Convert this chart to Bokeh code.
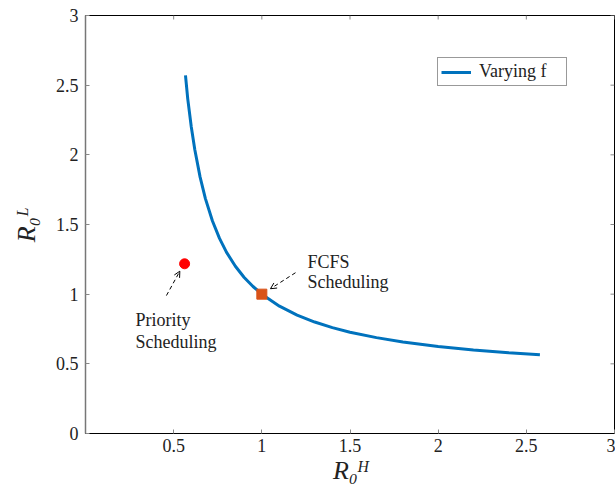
from bokeh.plotting import figure
from bokeh.models import (Range1d, FixedTicker, Label, Arrow, OpenHead,
                          Legend, LegendItem, CustomJSTickFormatter)
from bokeh.embed import file_html
from bokeh.resources import INLINE

# ---- data ----
curve_x = [0.567, 0.58, 0.60, 0.62, 0.65, 0.68, 0.72, 0.76, 0.80, 0.85, 0.90, 0.95,
           1.00, 1.10, 1.20, 1.30, 1.40, 1.50, 1.65, 1.80, 2.00, 2.20, 2.40, 2.577]
curve_y = [2.57, 2.40, 2.20, 2.036, 1.84, 1.686, 1.525, 1.40, 1.30, 1.20, 1.12, 1.055,
           1.00, 0.914, 0.85, 0.80, 0.76, 0.727, 0.688, 0.657, 0.625, 0.60, 0.58, 0.565]
priority_x = [0.562]
priority_y = [1.218]
fcfs_x = [1.0]
fcfs_y = [1.0]
x_ticks = [0.5, 1, 1.5, 2, 2.5, 3]
y_ticks = [0, 0.5, 1, 1.5, 2, 2.5, 3]
x_max = 3
y_max = 3

# annotation anchors (data units)
prio_arrow = [0.459, 0.99, 0.535, 1.165]
fcfs_arrow = [1.191, 1.154, 1.049, 1.039]
prio_text = [(0.284, 0.818, "Priority"), (0.284, 0.655, "Scheduling")]
fcfs_text = [(1.259, 1.23, "FCFS"), (1.259, 1.086, "Scheduling")]

SERIF = "Liberation Serif"
TXT = "#222222"
FS = "18px"

p = figure(width=615, height=493, output_backend="svg", toolbar_location=None,
           x_range=Range1d(0, x_max), y_range=Range1d(0, y_max),
           min_border_left=85, min_border_right=1, min_border_top=15, min_border_bottom=60)
p.grid.visible = False
p.outline_line_color = "black"
p.outline_line_width = 1

fmt = CustomJSTickFormatter(code="return String(Math.round(tick*10)/10);")

for ax, ticks in ((p.xaxis[0], x_ticks), (p.yaxis[0], y_ticks)):
    ax.ticker = FixedTicker(ticks=ticks)
    ax.formatter = fmt
    ax.minor_tick_line_color = None
    ax.major_tick_in = 4
    ax.major_tick_out = 0
    ax.major_tick_line_color = "#888888"
    ax.major_label_text_font = SERIF
    ax.major_label_text_font_size = FS
    ax.major_label_text_color = TXT
    ax.major_label_standoff = 7
    ax.axis_label_text_font = SERIF
    ax.axis_label_text_font_style = "italic"
    ax.axis_label_text_font_size = "26px"
    ax.axis_label_text_color = TXT
p.xaxis[0].axis_line_color = "black"
p.yaxis[0].axis_line_color = "#777777"
p.yaxis[0].axis_line_width = 1.5
p.xaxis[0].axis_label = "R₀ᴴ"
p.yaxis[0].axis_label = "R₀ᴸ"
p.xaxis[0].major_label_standoff = 5
p.xaxis[0].axis_label_standoff = 1
p.yaxis[0].axis_label_standoff = 12

# mirrored inward ticks on the top and right edges of the frame
tick_dx = 4 / 176.3
tick_dy = 4 / 139.3
p.segment(x0=x_ticks, x1=x_ticks, y0=[y_max] * len(x_ticks),
          y1=[y_max - tick_dy] * len(x_ticks), line_color="#888888", line_width=1)
p.segment(x0=[x_max] * len(y_ticks), x1=[x_max - tick_dx] * len(y_ticks),
          y0=y_ticks, y1=y_ticks, line_color="#888888", line_width=1)

line = p.line(curve_x, curve_y, line_color="#0072BD", line_width=3)
p.scatter(fcfs_x, fcfs_y, marker="square", size=10, fill_color="#D95319",
          line_color="#D95319")
p.scatter(priority_x, priority_y, marker="circle", size=10, fill_color="#FF0000",
          line_color="#FF0000")

for a in (prio_arrow, fcfs_arrow):
    p.add_layout(Arrow(x_start=a[0], y_start=a[1], x_end=a[2], y_end=a[3],
                       line_dash="4 3", line_width=1, line_color="black",
                       end=OpenHead(size=6, line_width=1, line_color="black")))

for (x, y, t) in prio_text + fcfs_text:
    p.add_layout(Label(x=x, y=y, text=t, text_font=SERIF, text_font_size=FS,
                       text_color=TXT, text_baseline="alphabetic", text_align="left"))

legend = Legend(items=[LegendItem(label="Varying f", renderers=[line])],
                location=(352, 347), label_text_font=SERIF, label_text_font_size=FS,
                label_text_color=TXT, border_line_color="#333333", border_line_width=1,
                padding=3, margin=0, glyph_width=30, label_standoff=8,
                label_height=20, glyph_height=20, label_width=84,
                background_fill_alpha=1)
p.add_layout(legend)

open("out.html", "w").write(file_html(p, INLINE))
